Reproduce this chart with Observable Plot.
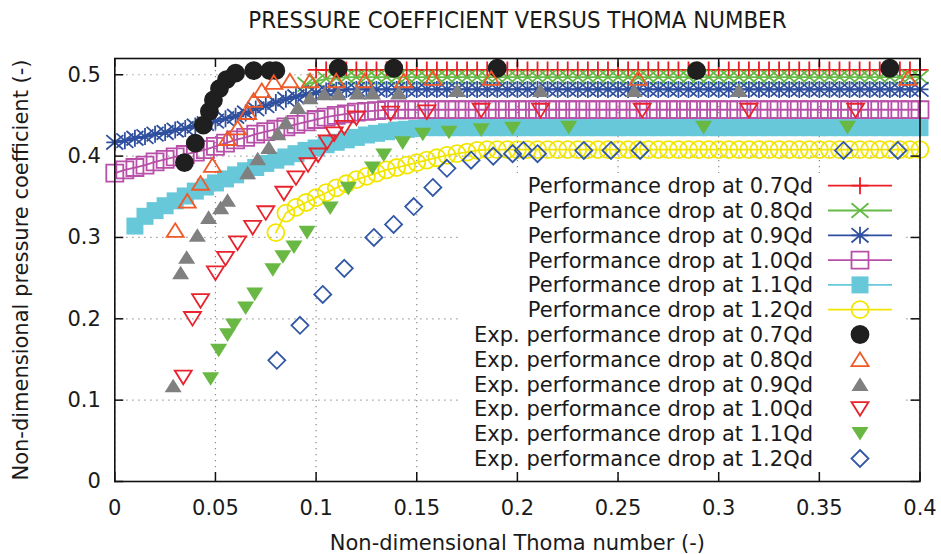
<!DOCTYPE html>
<html><head><meta charset="utf-8">
<script src="https://cdn.jsdelivr.net/npm/d3@7"></script>
<script src="https://cdn.jsdelivr.net/npm/@observablehq/plot@0.6"></script>
<style>
body{margin:0;background:#fff}
#chart{width:941px;height:554px}
</style>
</head><body><div id="chart"></div>
<script>
// ---------- DATA ----------
const thoma = [0,0.005,0.01,0.015,0.02,0.025,0.03,0.035,0.04,0.045,
 0.05,0.055,0.06,0.065,0.07,0.075,0.08,0.085,0.09,0.095,
 0.1,0.105,0.11,0.115,0.12,0.125,0.13,0.135,0.14,0.145,
 0.15,0.155,0.16,0.165,0.17,0.175,0.18,0.185,0.19,0.195,
 0.2,0.205,0.21,0.215,0.22,0.225,0.23,0.235,0.24,0.245,
 0.25,0.255,0.26,0.265,0.27,0.275,0.28,0.285,0.29,0.295,
 0.3,0.305,0.31,0.315,0.32,0.325,0.33,0.335,0.34,0.345,
 0.35,0.355,0.36,0.365,0.37,0.375,0.38,0.385,0.39,0.395,
 0.4];
const _ = null;
const sim07 = [_,_,_,_,_,_,_,_,_,_,
 _,_,_,_,_,_,_,_,_,_,
 0.506,0.506,0.506,0.506,0.506,0.506,0.506,0.506,0.506,0.506,
 0.506,0.506,0.506,0.506,0.506,0.506,0.506,0.506,0.506,0.506,
 0.506,0.506,0.506,0.506,0.506,0.506,0.506,0.506,0.506,0.506,
 0.506,0.506,0.506,0.506,0.506,0.506,0.506,0.506,0.506,0.506,
 0.506,0.506,0.506,0.506,0.506,0.506,0.506,0.506,0.506,0.506,
 0.506,0.506,0.506,0.506,0.506,0.506,0.506,0.506,0.506,0.506,
 0.506];
const sim08 = [_,_,_,_,_,_,_,_,_,_,
 _,_,_,_,_,_,_,_,_,0.488,
 0.492,0.495,0.496,0.497,0.497,0.497,0.497,0.497,0.497,0.497,
 0.497,0.497,0.497,0.497,0.497,0.497,0.497,0.497,0.497,0.497,
 0.497,0.497,0.497,0.497,0.497,0.497,0.497,0.497,0.497,0.497,
 0.497,0.497,0.497,0.497,0.497,0.497,0.497,0.497,0.497,0.497,
 0.497,0.497,0.497,0.497,0.497,0.497,0.497,0.497,0.497,0.497,
 0.497,0.497,0.497,0.497,0.497,0.497,0.497,0.497,0.497,0.497,
 0.497];
const sim09 = [0.417,0.419,0.422,0.424,0.427,0.429,0.432,0.434,0.437,0.440,
 0.443,0.446,0.449,0.453,0.458,0.462,0.466,0.470,0.473,0.476,
 0.478,0.480,0.481,0.482,0.482,0.482,0.482,0.482,0.482,0.482,
 0.482,0.482,0.482,0.482,0.482,0.482,0.482,0.482,0.482,0.482,
 0.482,0.482,0.482,0.482,0.482,0.482,0.482,0.482,0.482,0.482,
 0.482,0.482,0.482,0.482,0.482,0.482,0.482,0.482,0.482,0.482,
 0.482,0.482,0.482,0.482,0.482,0.482,0.482,0.482,0.482,0.482,
 0.482,0.482,0.482,0.482,0.482,0.482,0.482,0.482,0.482,0.482,
 0.482];
const sim10 = [0.379,0.383,0.386,0.389,0.393,0.396,0.399,0.402,0.405,0.408,
 0.412,0.416,0.420,0.423,0.427,0.430,0.433,0.436,0.439,0.442,
 0.445,0.448,0.450,0.452,0.454,0.455,0.456,0.457,0.457,0.457,
 0.457,0.457,0.457,0.457,0.457,0.457,0.457,0.457,0.457,0.457,
 0.457,0.457,0.457,0.457,0.457,0.457,0.457,0.457,0.457,0.457,
 0.457,0.457,0.457,0.457,0.457,0.457,0.457,0.457,0.457,0.457,
 0.457,0.457,0.457,0.457,0.457,0.457,0.457,0.457,0.457,0.457,
 0.457,0.457,0.457,0.457,0.457,0.457,0.457,0.457,0.457,0.457,
 0.457];
const sim11 = [_,_,0.314,0.326,0.333,0.339,0.345,0.351,0.357,0.362,
 0.367,0.372,0.377,0.382,0.386,0.391,0.395,0.399,0.403,0.407,
 0.410,0.414,0.417,0.420,0.423,0.426,0.428,0.430,0.432,0.433,
 0.434,0.435,0.435,0.435,0.435,0.435,0.435,0.435,0.435,0.435,
 0.435,0.435,0.435,0.435,0.435,0.435,0.435,0.435,0.435,0.435,
 0.435,0.435,0.435,0.435,0.435,0.435,0.435,0.435,0.435,0.435,
 0.435,0.435,0.435,0.435,0.435,0.435,0.435,0.435,0.435,0.435,
 0.435,0.435,0.435,0.435,0.435,0.435,0.435,0.435,0.435,0.435,
 0.435];
const sim12 = [_,_,_,_,_,_,_,_,_,_,
 _,_,_,_,_,_,0.306,0.330,0.337,0.343,
 0.349,0.355,0.361,0.366,0.371,0.375,0.379,0.383,0.386,0.389,
 0.392,0.395,0.398,0.401,0.403,0.405,0.407,0.408,0.408,0.408,
 0.408,0.408,0.408,0.408,0.408,0.408,0.408,0.408,0.408,0.408,
 0.408,0.408,0.408,0.408,0.408,0.408,0.408,0.408,0.408,0.408,
 0.408,0.408,0.408,0.408,0.408,0.408,0.408,0.408,0.408,0.408,
 0.408,0.408,0.408,0.408,0.408,0.408,0.408,0.408,0.408,0.408,
 0.408];

const exp07x = [0.0346,0.040,0.044,0.047,0.049,0.052,0.0555,0.060,0.069,0.077,0.080,0.111,0.1386,0.190,0.289,0.385];
const exp07y = [0.392,0.416,0.438,0.455,0.469,0.483,0.494,0.502,0.505,0.505,0.505,0.508,0.508,0.508,0.505,0.508];
const exp08x = [0.030,0.036,0.0426,0.0485,0.056,0.061,0.066,0.069,0.073,0.079,0.087,0.097,0.110,0.124,0.1435,0.158,0.187,0.260,0.394];
const exp08y = [0.309,0.345,0.367,0.389,0.422,0.435,0.454,0.469,0.481,0.491,0.493,0.493,0.493,0.493,0.493,0.496,0.496,0.496,0.496];
const exp09x = [0.029,0.0327,0.0357,0.041,0.0466,0.0526,0.056,0.066,0.071,0.0765,0.081,0.085,0.091,0.097,0.104,0.111,0.1205,0.128,0.141,0.170,0.2115,0.258,0.310];
const exp09y = [0.118,0.257,0.276,0.303,0.325,0.337,0.346,0.380,0.397,0.411,0.428,0.4415,0.460,0.472,0.477,0.477,0.478,0.478,0.478,0.481,0.481,0.481,0.481];
const exp10x = [0.034,0.0386,0.0426,0.050,0.055,0.061,0.0685,0.075,0.084,0.090,0.096,0.101,0.1055,0.109,0.114,0.120,0.137,0.155,0.182,0.2115,0.262,0.315,0.368];
const exp10y = [0.128,0.200,0.222,0.256,0.274,0.293,0.312,0.330,0.354,0.373,0.389,0.401,0.417,0.427,0.435,0.4465,0.4525,0.454,0.456,0.456,0.456,0.456,0.456];
const exp11x = [0.0476,0.0516,0.056,0.059,0.065,0.0695,0.0785,0.0835,0.089,0.0955,0.107,0.116,0.128,0.1336,0.143,0.153,0.166,0.182,0.1976,0.2255,0.2925,0.364];
const exp11y = [0.126,0.161,0.180,0.192,0.213,0.230,0.260,0.276,0.288,0.306,0.336,0.360,0.385,0.401,0.416,0.4265,0.429,0.432,0.434,0.435,0.435,0.435];
const exp12x = [0.0805,0.092,0.1033,0.114,0.1287,0.1385,0.1485,0.158,0.165,0.177,0.188,0.1976,0.203,0.210,0.233,0.2465,0.261,0.362,0.389];
const exp12y = [0.149,0.192,0.230,0.262,0.300,0.316,0.338,0.3615,0.385,0.395,0.400,0.403,0.407,0.403,0.407,0.407,0.407,0.407,0.407];

const xTicks = [0,0.05,0.1,0.15,0.2,0.25,0.3,0.35,0.4];
const yTicks = [0,0.1,0.2,0.3,0.4,0.5];
const simNames = ["Performance drop at 0.7Qd","Performance drop at 0.8Qd","Performance drop at 0.9Qd","Performance drop at 1.0Qd","Performance drop at 1.1Qd","Performance drop at 1.2Qd"];
const expNames = ["Exp. performance drop at 0.7Qd","Exp. performance drop at 0.8Qd","Exp. performance drop at 0.9Qd","Exp. performance drop at 1.0Qd","Exp. performance drop at 1.1Qd","Exp. performance drop at 1.2Qd"];
const titleText = "PRESSURE COEFFICIENT VERSUS THOMA NUMBER";
const xLabel = "Non-dimensional Thoma number (-)";
const yLabel = "Non-dimensional pressure coefficient (-)";

// ---------- SYMBOLS ----------
const sym = f => ({draw(c, size){ const r = Math.sqrt(size/Math.PI); f(c, r); }});
const SPlus = sym((c,r)=>{c.moveTo(-r,0);c.lineTo(r,0);c.moveTo(0,-r);c.lineTo(0,r);});
const STimes = sym((c,r)=>{const a=r*0.85;c.moveTo(-r,-a);c.lineTo(r,a);c.moveTo(-r,a);c.lineTo(r,-a);});
const SAster = sym((c,r)=>{const a=r*0.85;c.moveTo(-r,0);c.lineTo(r,0);c.moveTo(0,-r);c.lineTo(0,r);c.moveTo(-r,-a);c.lineTo(r,a);c.moveTo(-r,a);c.lineTo(r,-a);});
const SSquare = sym((c,r)=>{c.moveTo(-r,-r);c.lineTo(r,-r);c.lineTo(r,r);c.lineTo(-r,r);c.closePath();});
const SCircle = sym((c,r)=>{c.moveTo(r,0);c.arc(0,0,r,0,2*Math.PI);c.closePath();});
const STriUp = sym((c,r)=>{const h=r*0.8;c.moveTo(0,-h);c.lineTo(r,h);c.lineTo(-r,h);c.closePath();});
const STriDown = sym((c,r)=>{const h=r*0.8;c.moveTo(0,h);c.lineTo(r,-h);c.lineTo(-r,-h);c.closePath();});
const SDiamond = sym((c,r)=>{c.moveTo(0,-r);c.lineTo(r,0);c.lineTo(0,r);c.lineTo(-r,0);c.closePath();});

const R = 8.5;
const simStyles = [
  {y: sim07, color:"#ec1c24", symbol:SPlus, fill:"none"},
  {y: sim08, color:"#66bb46", symbol:STimes, fill:"none"},
  {y: sim09, color:"#2f4f9f", symbol:SAster, fill:"none"},
  {y: sim10, color:"#b84fa8", symbol:SSquare, fill:"none"},
  {y: sim11, color:"#67c8d9", symbol:SSquare, fill:"#67c8d9", noStroke:true},
  {y: sim12, color:"#f2e600", symbol:SCircle, fill:"none"}
];
const expStyles = [
  {x: exp07x, y: exp07y, color:"#1f1f1f", symbol:SCircle, fill:"#1f1f1f"},
  {x: exp08x, y: exp08y, color:"#f05a28", symbol:STriUp, fill:"none"},
  {x: exp09x, y: exp09y, color:"#808081", symbol:STriUp, fill:"#808081", noStroke:true},
  {x: exp10x, y: exp10y, color:"#e8232d", symbol:STriDown, fill:"none"},
  {x: exp11x, y: exp11y, color:"#69b844", symbol:STriDown, fill:"#69b844", noStroke:true},
  {x: exp12x, y: exp12y, color:"#3157a6", symbol:SDiamond, fill:"none"}
];

const FONT = "DejaVu Sans";
const FS = 21;

const marks = [];
marks.push(Plot.gridX(xTicks, {stroke:"#8a8a8a", strokeOpacity:1, strokeWidth:1.2, strokeDasharray:"1.2,4.8"}));
marks.push(Plot.gridY(yTicks, {stroke:"#8a8a8a", strokeOpacity:1, strokeWidth:1.2, strokeDasharray:"1.2,4.8"}));

simStyles.forEach(s => {
  const rows = thoma.map((x,i)=>({x, y: s.y[i]}));
  marks.push(Plot.line(rows, {x:"x", y:"y", stroke:s.color, strokeWidth:1.8}));
  marks.push(Plot.dot(rows.filter(d=>d.y!=null), {x:"x", y:"y", r:R, symbol:s.symbol,
    fill:s.fill, stroke: s.noStroke ? "none" : s.color, strokeWidth:1.8}));
});
expStyles.forEach(s => {
  const rows = s.x.map((x,i)=>({x, y: s.y[i]}));
  marks.push(Plot.dot(rows, {x:"x", y:"y", r:R, symbol:s.symbol,
    fill:s.fill, stroke: s.noStroke ? "none" : s.color, strokeWidth:1.8}));
});

// inward ticks on all four sides (gnuplot style)
const TL = 9;
const FH = 554 - 58 - 73, FW = 941 - 114.3 - 21.5;
marks.push(Plot.ruleX(xTicks, {insetTop: FH - TL, stroke:"#111", strokeWidth:1.5}));
marks.push(Plot.ruleX(xTicks, {insetBottom: FH - TL, stroke:"#111", strokeWidth:1.5}));
marks.push(Plot.ruleY(yTicks, {insetRight: FW - TL, stroke:"#111", strokeWidth:1.5}));
marks.push(Plot.ruleY(yTicks, {insetLeft: FW - TL, stroke:"#111", strokeWidth:1.5}));
marks.push(Plot.frame({stroke:"#111", strokeWidth:1.6}));

marks.push(Plot.axisX(xTicks, {tickSize:0, tickPadding:19, fontSize:FS, label:null,
  tickFormat: d => String(+d.toFixed(2))}));
marks.push(Plot.axisY(yTicks, {tickSize:0, tickPadding:14, fontSize:FS, label:null,
  tickFormat: d => String(+d.toFixed(2))}));

marks.push(Plot.text([titleText], {frameAnchor:"top", dy:-38, lineAnchor:"middle", fontSize:23.8,
  fontFamily:"DejaVu Sans Condensed, DejaVu Sans", fontStretch:"condensed"}));
marks.push(Plot.text([xLabel], {frameAnchor:"bottom", dy:62, lineAnchor:"middle", fontSize:FS}));
marks.push(Plot.text([yLabel], {frameAnchor:"left", dx:-94, rotate:-90, textAnchor:"middle", lineAnchor:"middle", fontSize:FS}));

// legend (opaque key box, gnuplot style)
marks.push(() => {
  const g = d3.create("svg:g");
  g.append("rect").attr("x",462).attr("y",173).attr("width",443).attr("height",299).attr("fill","white");
  const items = simStyles.map((s,i)=>({...s, name: simNames[i], line:true}))
    .concat(expStyles.map((s,i)=>({...s, name: expNames[i], line:false})));
  items.forEach((s,i) => {
    const cy = 185.7 + i*24.8;
    g.append("text").attr("x",813).attr("y",cy).attr("dy","0.36em").attr("text-anchor","end")
      .attr("font-family",FONT).attr("font-size",FS).attr("fill","#1a1a1a").text(s.name);
    if (s.line) g.append("line").attr("x1",828).attr("x2",892).attr("y1",cy).attr("y2",cy)
      .attr("stroke",s.color).attr("stroke-width",1.8);
    g.append("path").attr("transform",`translate(860,${cy})`)
      .attr("d", d3.symbol(s.symbol, Math.PI*R*R)())
      .attr("fill", s.fill).attr("stroke", s.noStroke ? "none" : s.color).attr("stroke-width",1.8);
  });
  return g.node();
});

const chart = Plot.plot({
  width: 941, height: 554,
  marginLeft: 114.3, marginRight: 21.5, marginTop: 58, marginBottom: 73,
  x: {domain:[0,0.4]},
  y: {domain:[0,0.52]},
  style: {fontFamily: FONT, fontSize: FS + "px", color:"#1a1a1a", background:"#fff"},
  marks
});
document.getElementById("chart").appendChild(chart);
</script></body></html>
